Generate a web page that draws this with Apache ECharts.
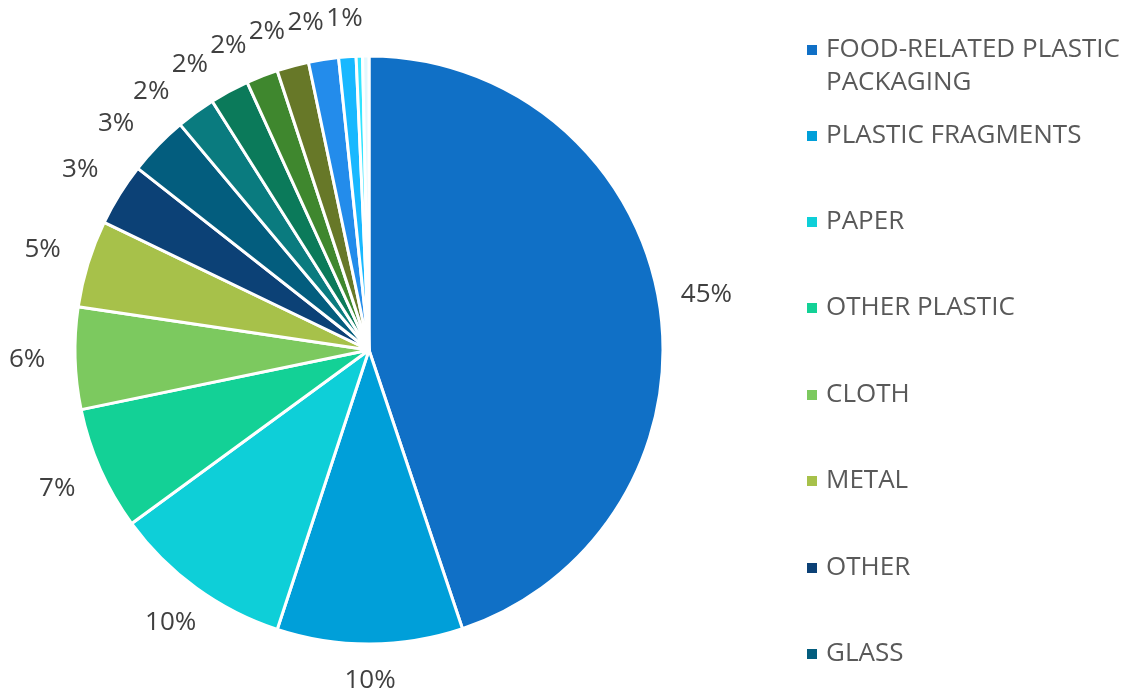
<!DOCTYPE html>
<html>
<head>
<meta charset="utf-8">
<style>
  html, body { margin: 0; padding: 0; background: #ffffff; }
  #chart { width: 1122px; height: 694px; }
</style>
<script src="https://cdn.jsdelivr.net/npm/echarts@6/dist/echarts.min.js"></script>
</head>
<body>
<div id="chart"></div>
<script>
// Litter composition, share of items (%)
const categories = [
  'FOOD-RELATED PLASTIC PACKAGING', 'PLASTIC FRAGMENTS', 'PAPER', 'OTHER PLASTIC',
  'CLOTH', 'METAL', 'OTHER', 'GLASS',
  'RUBBER', 'WOOD', 'FOAM', 'SANITARY', 'CERAMICS', 'FISHING GEAR', 'MEDICAL', 'LARGE ITEMS'
];
const shares = [44.85, 10.2, 9.9, 6.8, 5.6, 4.8, 3.45, 3.3, 2.15, 2.15, 1.75, 1.75, 1.65, 0.95, 0.35, 0.35];
const colors = [
  '#1070c6', '#009fd9', '#0ecfd8', '#13d196', '#7cc95f', '#a7c14a', '#0c4176', '#035d7e',
  '#0a7b7f', '#0b7a5a', '#3f872e', '#677828', '#238ceb', '#18b8ff', '#32e4ff', '#e4f8ff'
];
// legend rows shown beside the pie
const legendNames = categories.slice(0, 8);
const legendRowCenters = [50, 136, 222, 308, 395, 481, 568, 654];

const CX = 369, CY = 350, R = 294;
const FONT = 'Open Sans';
const LINE_H = 33;
const LABEL_BOX_H = 32;

const seriesData = categories.map((name, i) => ({
  name: name,
  value: shares[i],
  itemStyle: { color: colors[i] },
  label: { show: Math.round(shares[i]) > 0 }
}));

const legendText = {
  fontFamily: FONT,
  fontSize: 26,
  color: '#595959',
  lineHeight: LINE_H,
  padding: [0, 0, 0, 3]
};

const legends = legendNames.map((name, i) => {
  const twoLine = name === 'FOOD-RELATED PLASTIC PACKAGING';
  // the wrapped entry gets a blank first line so its first text line sits beside the marker
  const blockH = twoLine ? LINE_H * 3 : LINE_H;
  return {
    data: [name],
    orient: 'vertical',
    left: 805,
    top: legendRowCenters[i] - blockH / 2,
    padding: 0,
    itemWidth: 12,
    itemHeight: 12,
    itemGap: 0,
    icon: 'rect',
    selectedMode: false,
    formatter: twoLine ? ' \n{t|FOOD-RELATED PLASTIC}\n{t|PACKAGING}' : '{t|' + name + '}',
    textStyle: {
      fontFamily: FONT,
      fontSize: 26,
      color: '#595959',
      lineHeight: LINE_H,
      rich: { t: legendText }
    }
  };
});

// mid-angle of each labelled slice as laid out by the pie, plus label size
const labelInfo = {};
// angles after nudging crowded labels apart
let labelAngles = null;

function labelPos(a) {
  const ux = Math.cos(a), uy = Math.sin(a);
  const d = R + 37 + 11 * Math.abs(ux);
  return [CX + ux * d, CY + uy * d];
}

function buildOption() {
  return {
    backgroundColor: '#ffffff',
    animation: false,
    legend: legends,
    series: [{
      type: 'pie',
      center: [CX, CY],
      radius: R,
      startAngle: 90,
      clockwise: true,
      data: seriesData,
      itemStyle: { borderColor: '#ffffff', borderWidth: 3 },
      emphasis: { disabled: true },
      label: {
        position: 'outside',
        fontFamily: FONT,
        fontSize: 26,
        lineHeight: 24,
        color: '#404040',
        formatter: p => Math.round(p.value) + '%'
      },
      labelLine: { show: true, length: 0, length2: 0, lineStyle: { width: 0, opacity: 0 } },
      // labels sit outside the rim on the slice's mid-angle ray
      labelLayout: function (p) {
        const pts = p.labelLinePoints;
        if (!pts) return {};
        let a = Math.atan2(pts[0][1] - CY, pts[0][0] - CX);
        labelInfo[p.dataIndex] = { a: a, w: p.labelRect.width };
        if (labelAngles && labelAngles[p.dataIndex] != null) a = labelAngles[p.dataIndex];
        const xy = labelPos(a);
        return { x: xy[0], y: xy[1], align: 'center', verticalAlign: 'middle' };
      }
    }]
  };
}

const chart = echarts.init(document.getElementById('chart'), null, { renderer: 'canvas' });
chart.setOption(buildOption());

// walk labels counter-clockwise from the last slice and rotate any that collide with their neighbour
(function spreadLabels() {
  const order = Object.keys(labelInfo).map(Number).sort((a, b) => b - a);
  labelAngles = {};
  let prev = null;
  order.forEach(i => {
    const info = labelInfo[i];
    const w = info.w + 2;
    let a = info.a;
    let xy = labelPos(a);
    if (prev) {
      let guard = 0;
      while (Math.abs(xy[0] - prev.x) < (w + prev.w) / 2 &&
             Math.abs(xy[1] - prev.y) < LABEL_BOX_H && guard++ < 400) {
        a -= 0.002;
        xy = labelPos(a);
      }
    }
    labelAngles[i] = a;
    prev = { x: xy[0], y: xy[1], w: w };
  });
  chart.setOption(buildOption(), true);
})();
</script>
</body>
</html>
